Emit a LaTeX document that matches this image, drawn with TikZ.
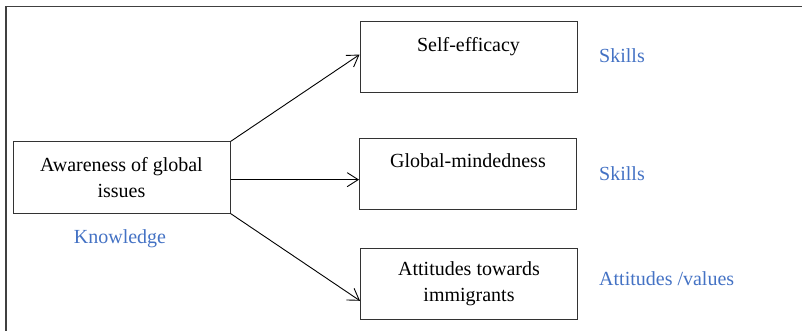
\documentclass[tikz,border=0pt]{standalone}
\usepackage{fontspec}
\setmainfont{Liberation Serif}
\usetikzlibrary{arrows.meta,calc}
\definecolor{labelblue}{RGB}{68,114,196}
\tikzset{
  stagebox/.style={draw=black!80, line width=1pt, minimum width=217pt, minimum height=71pt,
    align=center, inner sep=0pt, font=\fontsize{20}{26}\selectfont},
  areatag/.style={text=labelblue, inner sep=0pt, font=\fontsize{20}{26}\selectfont},
  link/.style={-{Straight Barb[length=11pt,width=14pt]}, line width=0.9pt}
}
\begin{document}
\begin{tikzpicture}[x=1pt,y=-1pt]
        \useasboundingbox (0,0) rectangle (802,331);
        %
        \draw [line width=1.3pt, black!75] (6,331) -- (6,6.5) -- (802,6.5);
        %
        \node [stagebox] (aware) at (121.5,177.5) {Awareness of global\\issues};
        \node [stagebox] (self) at (468.5,57.5) {Self-efficacy\\\mbox{}};
        \node [stagebox] (mind) at (468,174) {Global-mindedness\\\mbox{}};
        \node [stagebox] (att) at (469,283.5) {Attitudes towards\\immigrants};
        %
        \node [areatag, anchor=base] (know) at (120,243) {Knowledge};
        \node [areatag, anchor=base west] (skillA) at (599,63) {Skills};
        \node [areatag, anchor=base west] (skillB) at (599,180) {Skills};
        \node [areatag, anchor=base west] (value) at (599,285) {Attitudes /values};
        %
        \coordinate (awaremid) at ($(aware.north east)!0.53!(aware.south east)$);
        \draw [link] (aware.north east) -- ($(self.north west)!0.46!(self.south west)$);
        \draw [link] (awaremid) -- (awaremid -| mind.west);
        \draw [link] (aware.south east) -- ($(att.north west)!0.74!(att.south west)$);
      \end{tikzpicture}
\end{document}
